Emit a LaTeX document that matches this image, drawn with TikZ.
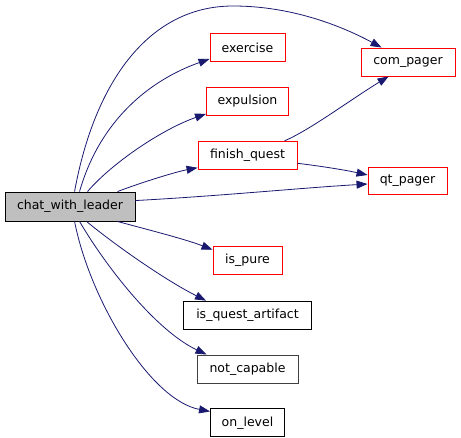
\documentclass[tikz,border=0pt]{standalone}
\usepackage{fontspec}
\setmainfont{DejaVu Sans}
\usetikzlibrary{positioning, arrows.meta}
\definecolor{edgeblue}{HTML}{191970}
\definecolor{hilite}{HTML}{BFBFBF}
\definecolor{undoc}{HTML}{404040}

\begin{document}
\begin{tikzpicture}[x=1pt, y=-1pt, font=\fontsize{12.5}{14}\selectfont, node distance=25pt,
  fn/.style={draw=black, line width=0.9pt, minimum height=28pt, inner sep=0pt, fill=white},
  ext/.style={fn, draw=red},
  edge/.style={-{Triangle[length=11pt, width=8pt]}, edgeblue, line width=0.8pt}
]
  \useasboundingbox (0,0) rectangle (461,438);
  \node[fn, fill=hilite, minimum width=130pt, minimum height=29pt] (cwl) at (70,206.5) {chat\_with\_leader};
  \node[ext, minimum width=75pt] (exercise) at (247.5,47.5) {exercise};
  \node[ext, minimum width=82pt, below=of exercise] (expulsion) {expulsion};
  \node[ext, minimum width=99pt, below=of expulsion] (finish) {finish\_quest};
  \node[ext, minimum width=69pt, below=76pt of finish] (pure) {is\_pure};
  \node[fn, minimum width=128pt, below=26pt of pure] (artifact) {is\_quest\_artifact};
  \node[fn, draw=undoc, minimum width=101pt, below=of artifact] (capable) {not\_capable};
  \node[fn, minimum width=74pt, below=of capable] (level) {on\_level};
  \node[ext, minimum width=94pt] (com) at (408,62) {com\_pager};
  \node[ext, minimum width=79pt, minimum height=27pt] (qt) at (407.5,180.5) {qt\_pager};

  % upper calls
  \draw[edge] ([xshift=70]cwl.north west) .. controls (95,80) and (150,6) .. (233,6)
    .. controls (290,6) and (340,25) .. ([xshift=21]com.north west);
  \draw[edge] ([xshift=75]cwl.north west) .. controls (100,120) and (150,80) .. ([yshift=3]exercise.south west);
  \draw[edge] ([xshift=83]cwl.north west) .. controls (110,165) and (160,130) .. ([yshift=2]expulsion.south west);
  \draw[edge] ([xshift=113]cwl.north west) .. controls (140,183) and (175,172) .. ([yshift=2]finish.south west);
  \draw[edge] ([yshift=-9]cwl.north east) .. controls (220,196) and (300,188) .. ([yshift=-3.5]qt.west);
  \draw[edge] ([xshift=87]finish.north west) .. controls (310,130) and (350,100) .. ([xshift=28]com.south west);
  \draw[edge] ([yshift=-8]finish.east) .. controls (320,166) and (345,170) .. ([yshift=5.5]qt.west);
  % lower calls
  \draw[edge] ([xshift=113]cwl.south west) .. controls (145,229) and (185,239) .. ([yshift=-4]pure.north west);
  \draw[edge] ([xshift=82]cwl.south west) .. controls (115,245) and (165,280) .. ([xshift=23]artifact.north west);
  \draw[edge] ([xshift=75]cwl.south west) .. controls (105,265) and (155,330) .. ([xshift=10]capable.north west);
  \draw[edge] ([xshift=70]cwl.south west) .. controls (90,300) and (150,400) .. ([yshift=-3]level.north west);
\end{tikzpicture}
\end{document}
